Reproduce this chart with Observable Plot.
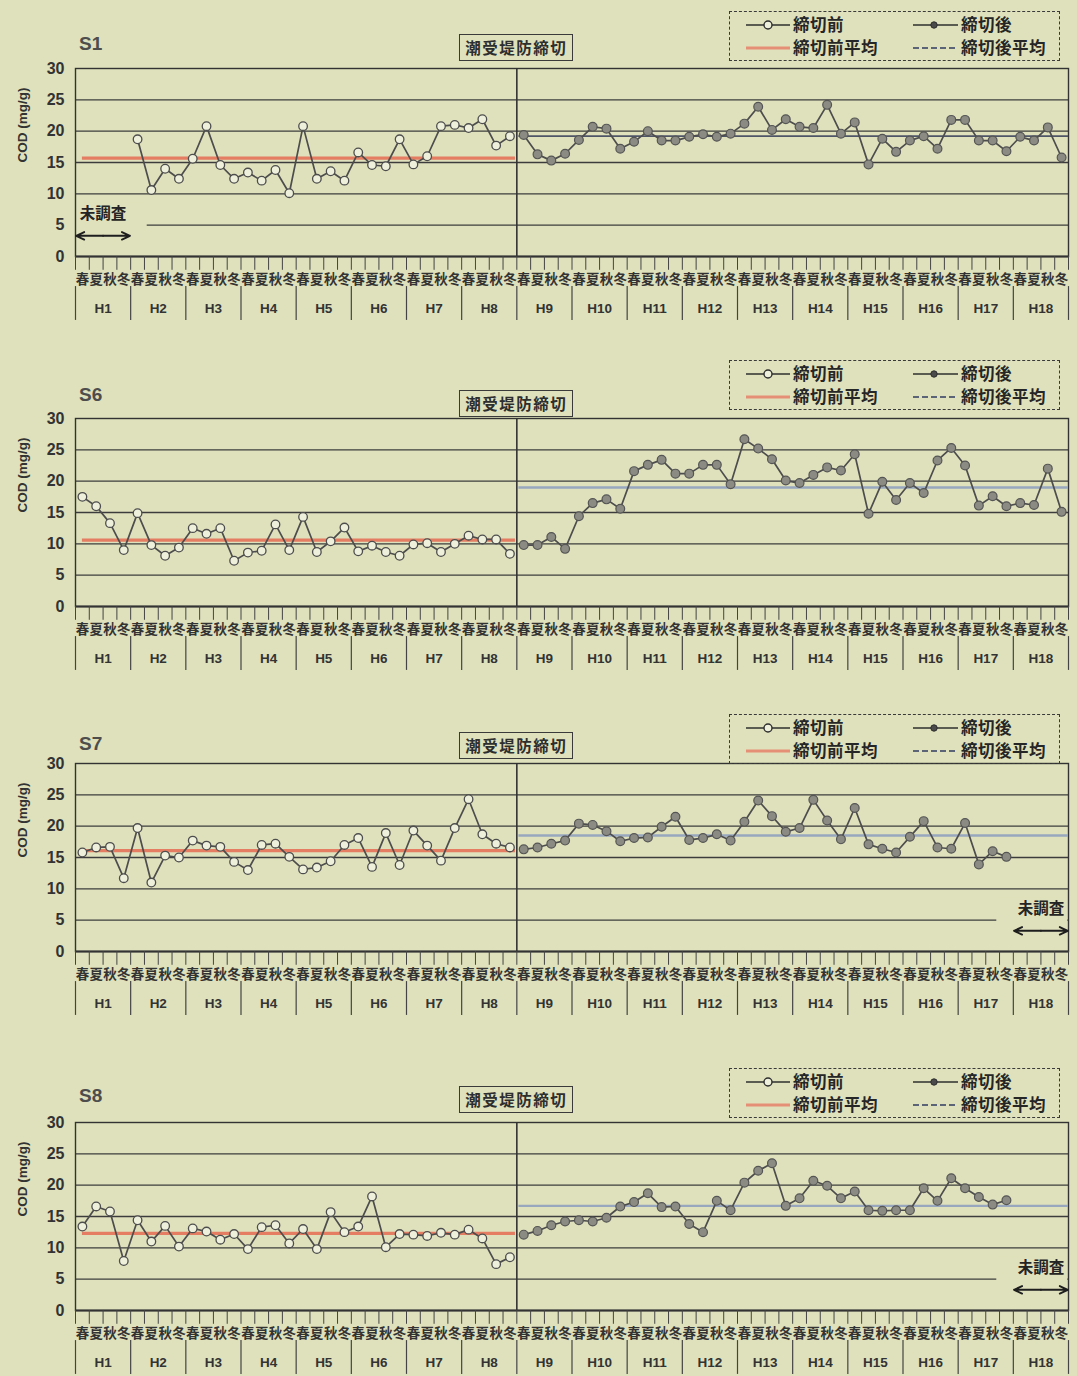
<!DOCTYPE html>
<html>
<head>
<meta charset="utf-8">
<script src="https://cdn.jsdelivr.net/npm/d3@7"></script>
<script src="https://cdn.jsdelivr.net/npm/@observablehq/plot@0.6"></script>
<style>
  html, body { margin: 0; padding: 0; background: #dfe1bc; overflow: hidden; }
  #root { position: relative; width: 1077px; height: 1376px; overflow: hidden; background: #dfe1bc; }
  .panel { position: absolute; left: 0; width: 1077px; height: 322px; }
  .panel svg { display: block; }
  .title { position: absolute; left: 79px; font: bold 19px "Liberation Sans", Arial, sans-serif; color: #4d4d4d; line-height: 1; }
  .annot { position: absolute; box-sizing: border-box; height: 27px; border: 1.6px solid #3a3a3a; background: #dfe1bc;
           font: bold 15.5px "Noto Sans CJK JP", sans-serif; letter-spacing: 1.5px; color: #2e2e2e;
           line-height: 24px; text-align: center; padding: 0 5px; white-space: nowrap; transform: translateX(-50%); }
  .legend { position: absolute; left: 729px; width: 331px; height: 50px; box-sizing: border-box; border: 1.6px dashed #3a3a3a; }
  .legend svg { position: absolute; left: 0; top: 0; }
</style>
</head>
<body>
<div id="root"></div>
<script>
// ---------------- data ----------------
const years = ["H1","H2","H3","H4","H5","H6","H7","H8","H9","H10","H11","H12","H13","H14","H15","H16","H17","H18"];
const seasons = ["春","夏","秋","冬"];
const stations = ["S1","S6","S7","S8"];
const yTicks = [0, 5, 10, 15, 20, 25, 30];
const yLabel = "COD (mg/g)";
const dividerLabel = "潮受堤防締切";
const missingLabel = "未調査";
const legendLabels = ["締切前", "締切後", "締切前平均", "締切後平均"];

// 締切前 (H1–H8, 32 seasons), null = 未調査
const beforeS1 = [null,null,null,null, 18.7,10.6,14.0,12.4, 15.6,20.8,14.6,12.4, 13.4,12.1,13.8,10.1,
                  20.8,12.4,13.6,12.1, 16.6,14.6,14.4,18.7, 14.7,16.0,20.8,21.0, 20.5,21.9,17.7,19.2];
const beforeS6 = [17.5,16.0,13.3,9.0, 14.9,9.8,8.1,9.4, 12.5,11.6,12.5,7.3, 8.6,8.9,13.1,9.0,
                  14.3,8.7,10.4,12.6, 8.8,9.7,8.7,8.1, 9.9,10.1,8.7,10.0, 11.3,10.7,10.7,8.4];
const beforeS7 = [15.8,16.6,16.7,11.7, 19.7,11.0,15.3,15.0, 17.7,16.9,16.7,14.3, 13.0,17.0,17.2,15.1,
                  13.1,13.4,14.4,17.0, 18.1,13.5,18.9,13.8, 19.3,16.9,14.5,19.7, 24.3,18.7,17.2,16.6];
const beforeS8 = [13.4,16.6,15.8,7.9, 14.4,11.0,13.5,10.2, 13.1,12.6,11.3,12.2, 9.8,13.3,13.6,10.7,
                  13.0,9.8,15.7,12.5, 13.4,18.2,10.1,12.2, 12.1,11.9,12.4,12.1, 12.9,11.5,7.4,8.5];

// 締切後 (H9–H18, 40 seasons), null = 未調査
const afterS1 = [19.4,16.3,15.3,16.4, 18.6,20.7,20.4,17.2, 18.3,20.0,18.5,18.5, 19.1,19.5,19.1,19.6,
                 21.2,23.9,20.2,21.9, 20.7,20.5,24.2,19.6, 21.4,14.7,18.8,16.7, 18.5,19.2,17.2,21.8,
                 21.8,18.5,18.5,16.8, 19.1,18.5,20.6,15.8];
const afterS6 = [9.8,9.8,11.1,9.2, 14.4,16.5,17.1,15.6, 21.6,22.6,23.4,21.2, 21.2,22.6,22.6,19.5,
                 26.7,25.2,23.5,20.1, 19.7,21.0,22.2,21.7, 24.3,14.8,19.9,17.0, 19.7,18.1,23.3,25.3,
                 22.5,16.1,17.6,16.0, 16.5,16.2,22.0,15.1];
const afterS7 = [16.3,16.6,17.2,17.7, 20.4,20.2,19.2,17.6, 18.1,18.2,19.9,21.5, 17.8,18.1,18.7,17.7,
                 20.7,24.1,21.6,19.1, 19.7,24.2,20.9,17.9, 22.9,17.1,16.4,15.8, 18.3,20.8,16.6,16.4,
                 20.5,13.9,16.0,15.1, null,null,null,null];
const afterS8 = [12.1,12.7,13.6,14.2, 14.4,14.2,14.8,16.6, 17.3,18.7,16.5,16.6, 13.8,12.5,17.5,16.0,
                 20.4,22.3,23.5,16.7, 17.9,20.7,19.9,17.9, 19.0,16.0,15.9,16.0, 16.0,19.5,17.5,21.1,
                 19.5,18.1,16.9,17.6, null,null,null,null];

const beforeMeans = [15.7, 10.6, 16.1, 12.3];
const afterMeans  = [19.2, 19.0, 18.5, 16.7];

// ---------------- layout (not data) ----------------
const beforeSets = [beforeS1, beforeS6, beforeS7, beforeS8];
const afterSets  = [afterS1, afterS6, afterS7, afterS8];
const panelTops  = [0, 350, 695, 1054];
const titleDy    = [-34, -33, -29, -36];
const legendDy   = [-57, -58, -49, -54];
const annotDy    = [-7, -1, -4, -9];
const afterMeanColor = ["#4e5566", "#98a7be", "#98a7be", "#98a7be"];
const afterMeanWidth = [1.7, 2.4, 2.4, 2.4];

const BG = "#dfe1bc";
const W = 1077, ML = 75, MR = 9, MT = 68, PH = 188, MB = 66;
const root = document.getElementById("root");

stations.forEach((name, p) => {
  const before = beforeSets[p], after = afterSets[p];
  const nB = before.length;
  const series = before.concat(after);
  const pts = series.map((v, i) => ({i, x: i + 0.5, v})).filter(d => d.v != null);
  const bRows = pts.filter(d => d.i < nB);
  const aRows = pts.filter(d => d.i >= nB);
  const nSlots = series.length;

  // contiguous runs of missing values (未調査)
  const runs = [];
  series.forEach((v, i) => {
    if (v == null) {
      const last = runs[runs.length - 1];
      if (last && last.b === i - 1) last.b = i; else runs.push({a: i, b: i});
    }
  });
  runs.forEach(r => { r.mid = (r.a + r.b + 1) / 2; r.s = r.a + 0.05; r.e = r.b + 0.95; });

  const slotRows = d3.range(nSlots).map(i => ({x: i + 0.5, s: seasons[i % seasons.length]}));
  const yearRows = years.map((y, k) => ({x: k * 4 + 2, y}));
  const edges = d3.range(nSlots + 1);
  const yearEdges = d3.range(years.length + 1).map(k => k * 4);

  const arrowOpts = {y1: 3.3, y2: 3.3, stroke: "#1e1e1e", strokeWidth: 1.9, headLength: 7, headAngle: 50};

  const chart = Plot.plot({
    width: W, height: MT + PH + MB,
    marginLeft: ML, marginRight: MR, marginTop: MT, marginBottom: MB,
    x: {domain: [0, nSlots], axis: null},
    y: {domain: [0, 30], axis: null},
    style: {background: "none", overflow: "visible", fontFamily: "'Noto Sans CJK JP', sans-serif", color: "#2e2e2e"},
    marks: [
      Plot.ruleY(yTicks.filter(t => t > 0 && t < 30), {stroke: "#3c3c3c", strokeWidth: 1.3}),
      // masks behind 未調査
      Plot.rect(runs, {
        x1: r => r.a === 0 ? 0.05 : r.a - 1.2,
        x2: r => r.b === nSlots - 1 ? nSlots - 0.05 : r.b + 2.2,
        y1: 1.6, y2: 8.6, fill: BG
      }),
      Plot.frame({stroke: "#333", strokeWidth: 1.4}),
      Plot.ruleY([0], {stroke: "#333", strokeWidth: 2}),
      Plot.ruleX([nB], {y1: 0, y2: 30, stroke: "#333", strokeWidth: 1.6}),
      // means
      Plot.ruleY([beforeMeans[p]], {x1: 0.5, x2: nB - 0.1, stroke: "#e47d62", strokeWidth: 3.2}),
      Plot.ruleY([afterMeans[p]], {x1: nB + 0.15, x2: nSlots, stroke: afterMeanColor[p], strokeWidth: afterMeanWidth[p]}),
      // series
      Plot.line(bRows, {x: "x", y: "v", stroke: "#4d4d4d", strokeWidth: 1.7}),
      Plot.dot(bRows, {x: "x", y: "v", r: 4.3, fill: "#eef0dc", stroke: "#4d4d4d", strokeWidth: 1.3}),
      Plot.line(aRows, {x: "x", y: "v", stroke: "#4d4d4d", strokeWidth: 1.7}),
      Plot.dot(aRows, {x: "x", y: "v", r: 4.4, fill: "#8b8b83", stroke: "#555", strokeWidth: 1.2}),
      // 未調査 (double arrow + label)
      Plot.arrow(runs, {x1: "mid", x2: "s", ...arrowOpts}),
      Plot.arrow(runs, {x1: "mid", x2: "e", ...arrowOpts}),
      Plot.text(runs, {
        x: "mid", y: 6.7, text: () => missingLabel,
        fontSize: 15.5, fontWeight: "bold", fill: "#242424"
      }),
      // y tick labels + axis title
      Plot.text(yTicks, {x: 0, y: d => d, text: d => String(d), textAnchor: "end", dx: -11,
        fontSize: 16, fontWeight: "bold", fill: "#333", fontFamily: "'Liberation Sans', Arial, sans-serif"}),
      Plot.text([yLabel], {frameAnchor: "left", rotate: -90, dx: -53, fontSize: 13.5, fontWeight: "bold",
        fill: "#333", fontFamily: "'Liberation Sans', Arial, sans-serif"}),
      // bottom category axis
      Plot.ruleX(edges, {y1: 0, y2: -2.2, stroke: "#444", strokeWidth: 1}),
      Plot.text(slotRows, {x: "x", y: -3.7, text: "s", fontSize: 13.5, fontWeight: "bold", fill: "#333"}),
      Plot.ruleX(yearEdges, {y1: -4.8, y2: -10.2, stroke: "#444", strokeWidth: 1.2}),
      Plot.text(yearRows, {x: "x", y: -8.3, text: "y", fontSize: 13.5, fontWeight: "bold", fill: "#333",
        fontFamily: "'Liberation Sans', Arial, sans-serif"})
    ]
  });

  const div = document.createElement("div");
  div.className = "panel";
  div.style.top = panelTops[p] + "px";
  div.appendChild(chart);

  // station title
  const t = document.createElement("div");
  t.className = "title";
  t.style.top = (MT + titleDy[p]) + "px";
  t.textContent = name;
  div.appendChild(t);

  // divider annotation box
  const xs = chart.scale("x");
  const a = document.createElement("div");
  a.className = "annot";
  a.style.left = xs.apply(nB) + "px";
  a.style.top = (MT + annotDy[p] - 27) + "px";
  a.textContent = dividerLabel;
  div.appendChild(a);

  // legend
  const lg = document.createElement("div");
  lg.className = "legend";
  lg.style.top = (MT + legendDy[p]) + "px";
  const fs = `font: bold 16.5px 'Noto Sans CJK JP', sans-serif; letter-spacing: 0.5px; fill: #262626;`;
  lg.innerHTML = `<svg width="331" height="50">
    <line x1="16" x2="60" y1="13" y2="13" stroke="#2e2e2e" stroke-width="1.7"/>
    <circle cx="38" cy="13" r="4" fill="#eef0dc" stroke="#2e2e2e" stroke-width="1.4"/>
    <text x="63" y="13" dy="0.36em" style="${fs}">${legendLabels[0]}</text>
    <line x1="183" x2="228" y1="13" y2="13" stroke="#2e2e2e" stroke-width="1.7"/>
    <circle cx="204" cy="13" r="3.2" fill="#4a4a4a" stroke="#2e2e2e" stroke-width="1"/>
    <text x="231" y="13" dy="0.36em" style="${fs}">${legendLabels[1]}</text>
    <line x1="16" x2="60" y1="36" y2="36" stroke="#e58f76" stroke-width="3.2"/>
    <text x="63" y="36" dy="0.36em" style="${fs}">${legendLabels[2]}</text>
    <line x1="183" x2="228" y1="36" y2="36" stroke="#5c6577" stroke-width="1.8" stroke-dasharray="6,3"/>
    <text x="231" y="36" dy="0.36em" style="${fs}">${legendLabels[3]}</text>
  </svg>`;
  div.appendChild(lg);

  root.appendChild(div);
});
</script>
</body>
</html>
